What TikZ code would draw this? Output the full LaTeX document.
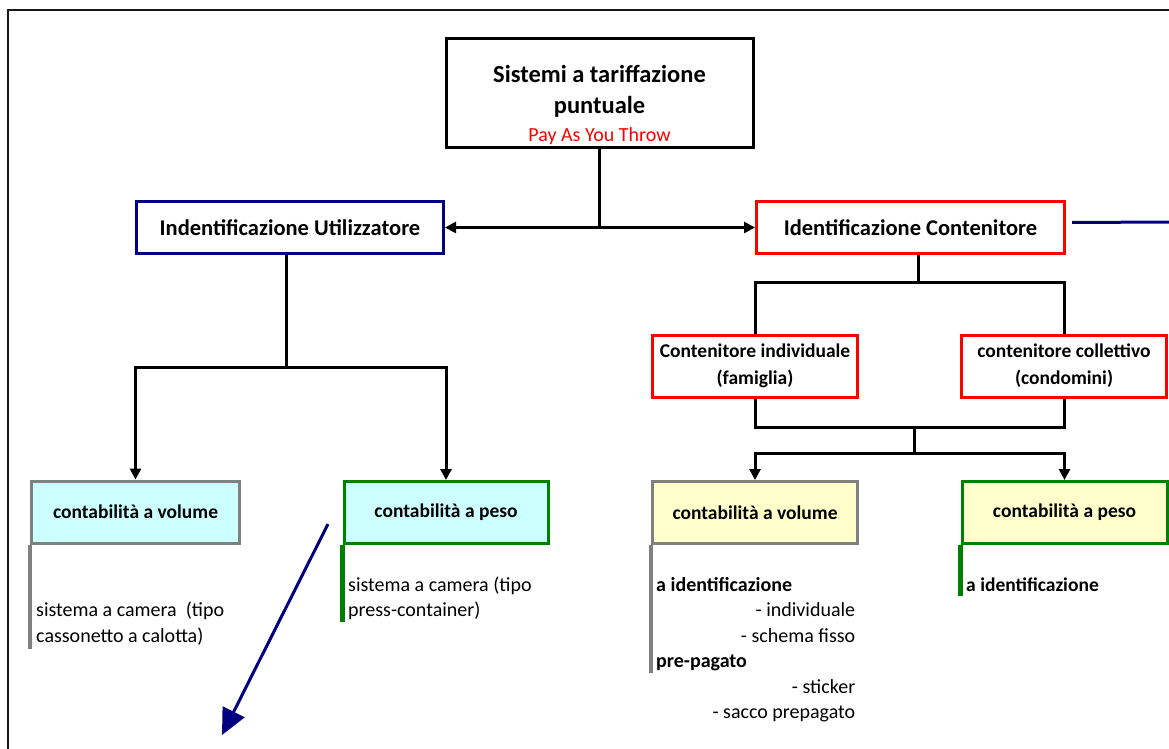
\documentclass[tikz,border=0pt]{standalone}
\usepackage{fontspec}
\setmainfont{Carlito}
\usetikzlibrary{arrows.meta}
\definecolor{blunotte}{RGB}{0,0,128}
\definecolor{verde}{RGB}{0,128,0}
\definecolor{grigio}{RGB}{128,128,128}
\definecolor{azzurro}{RGB}{204,255,255}
\definecolor{giallo}{RGB}{255,255,204}
\newcommand{\adestra}{\hspace*{0pt plus 1filll}}
\tikzset{
  box/.style={draw,line width=3pt,inner sep=0pt,minimum width=307pt,minimum height=52pt,font=\fontsize{22.5}{26}\selectfont\bfseries},
  sub/.style={draw,line width=3pt,inner sep=0pt,minimum width=205pt,minimum height=62pt,align=center,font=\fontsize{19.5}{26}\selectfont\bfseries},
  conn/.style={line width=3pt},
  freccia/.style={conn,-{Triangle[length=11pt,width=11pt]}},
  barra/.style={line width=4.5pt},
  nota/.style={inner sep=0pt,align=left,font=\fontsize{20}{25.5}\selectfont},
}
\begin{document}
\begin{tikzpicture}[x=1pt,y=-1pt]%PAYT
\useasboundingbox (0,0) rectangle (1169,749);
\draw[line width=2pt,black!90] (8,749) -- (8,10) -- (1169,10);
% caselle
\node[box,minimum height=108pt,label={[yshift=-12pt,align=center,font=\fontsize{24.5}{31}\selectfont\bfseries]center:Sistemi a tariffazione\\puntuale\\[-3pt]{\mdseries\fontsize{20}{24}\selectfont\color{red}Pay As You Throw}}] (radice) at (599.5,93) {};
\node[box,draw=blunotte] (utente) at (290,227.5) {Indentificazione Utilizzatore};
\node[box,draw=red,minimum width=308pt] (conten) at (910.5,227.5) {Identificazione Contenitore};
\node[sub,draw=red] (cind) at (755,366) {Contenitore individuale\\[1pt](famiglia)};
\node[sub,draw=red] (ccoll) at (1064,366) {contenitore collettivo\\[1pt](condomini)};
\node[sub,draw=grigio,fill=azzurro,minimum width=208pt] (uvol) at (135.5,512) {contabilità a volume};
\node[sub,draw=verde,fill=azzurro,minimum width=204pt] (upeso) at (446,512.5) {contabilità a peso};
\node[sub,draw=grigio,fill=giallo] (cvol) at (755,512.5) {contabilità a volume};
\node[sub,draw=verde,fill=giallo] (cpeso) at (1064.5,512.5) {contabilità a peso};
% punti di snodo
\coordinate (uj) at (286,367);
\coordinate (cj) at (918,282);
\coordinate (kj) at (914,427);
\coordinate (ks) at (914,453);
\coordinate (fuori) at (1169,222);
\coordinate (nda) at (328,524);
\coordinate (na) at (222,735);
% collegamenti
\draw[freccia] (radice.south) |- (utente.east);
\draw[freccia] (radice.south) |- (conten.west);
\draw[conn] (uj |- utente.south) -- (uj);
\draw[freccia] (uj) -| (uvol.north);
\draw[freccia] (uj) -| (upeso.north);
\draw[conn] (cj |- conten.south) -- (cj);
\draw[conn] (cind.north) |- (cj) -| (ccoll.north);
\draw[conn] (cind.south) |- (kj) -| (ccoll.south);
\draw[conn] (kj) -- (ks);
\draw[freccia] (ks) -| (cvol.north);
\draw[freccia] (ks) -| (cpeso.north);
\draw[conn,blunotte] ([xshift=6pt,yshift=5pt]conten.east) -- (fuori);
\draw[conn,blunotte,-{Triangle[length=26pt,width=24pt]}] (nda) -- (na);
% barre e note
\draw[barra,grigio] (uvol.south west) -- ++(0,104);
\draw[barra,verde] (upeso.south west) -- ++(0,77);
\draw[barra,grigio] (cvol.south west) -- ++(0,128);
\draw[barra,verde] (cpeso.south west) -- ++(0,51);
\node[nota,anchor=west] (nuvol) at (36,623.5) {sistema a camera\ \ (tipo\\cassonetto a calotta)};
\node[nota,anchor=west] (nupeso) at (348,598.5) {sistema a camera (tipo\\press-container)};
\node[nota,anchor=west,text width=199pt,align=flush left] (ncvol) at (656,649.5) {\textbf{a identificazione}\\\adestra- individuale\\\adestra- schema fisso\\\textbf{pre-pagato}\\\adestra- sticker\\\adestra- sacco prepagato};
\node[nota,anchor=west,font=\fontsize{19.5}{25.5}\selectfont\bfseries] (ncpeso) at (966,585) {a identificazione};
\end{tikzpicture}
\end{document}
